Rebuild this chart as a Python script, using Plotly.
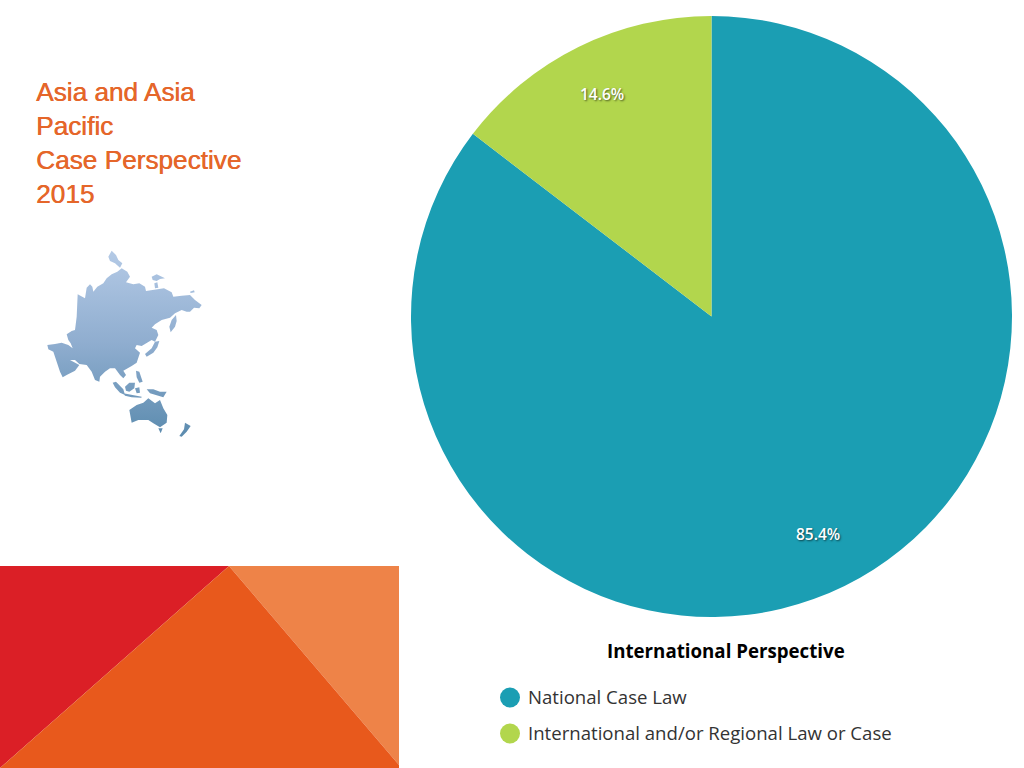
import math
import plotly.graph_objects as go

categories = ["National Case Law", "International and/or Regional Law or Case"]
values = [85.4, 14.6]
colors = ["#1B9EB3", "#B2D64D"]
chart_title = "International Perspective"
slide_title = ["Asia and Asia", "Pacific", "Case Perspective", "2015"]


# Decorative map outline: 3x zoom pixels of two crops of the map picture
def T(*pts):
    return [(40 + x / 3, 245 + y / 3) for x, y in pts]


def B(*pts):
    return [(40 + x / 3, 340 + y / 3) for x, y in pts]


map_parts = [
    T((205,35),(215,17),(228,30),(235,45),(247,55),(240,68),(225,55),(210,48)),
    T((113,148),(128,155),(135,160),(140,128),(150,118),(157,125),(160,140),(172,125),(190,115),(200,100),
      (215,88),(232,80),(245,70),(262,80),(270,95),(258,112),(280,118),(298,115),(315,125),(318,138),
      (345,135),(372,130),(395,142),(400,155),(425,152),(450,150),(465,165),(485,180),(478,190),(462,188),
      (450,200),(440,200),(425,195),(405,205),(390,218),(365,225),(345,238),(335,248),(350,255),(355,270),(345,290))
    + B((335,0),(315,12),(305,18),(290,15),(285,25),(300,38),(295,52),(290,68),(275,78),(262,85),(250,92),
        (258,105),(250,115),(240,105),(225,85),(210,85),(195,95),(180,110),(178,125),(165,120),(155,95),
        (140,75),(118,72),(105,60),(90,60),(118,75),(105,92),(80,105),(68,112),(60,95),(48,60),(40,35),
        (25,28),(22,15),(45,12),(65,8),(85,15),(98,25),(92,10),(85,0))
    + T((80,268),(95,258),(105,255),(110,215)),
    T((335,95),(350,88),(375,100),(360,102),(350,108),(338,105)),
    T((343,115),(352,112),(355,128),(345,130)),
    T((450,140),(462,136),(464,142),(452,144)),
    T((388,245),(395,225),(408,210),(410,228),(405,245),(392,262)),
    B((315,42),(335,25),(345,5),(358,3),(352,22),(340,38),(320,50)),
    B((218,128),(228,125),(250,148),(255,165),(240,158),(225,142)),
    B((250,160),(275,165),(305,170),(304,173),(275,172),(255,167)),
    B((255,140),(268,128),(285,128),(283,145),(268,155),(258,152)),
    B((288,92),(298,95),(308,125),(298,128),(290,112)),
    B((285,145),(298,142),(300,158),(290,160)),
    B((320,148),(340,148),(360,155),(380,155),(370,172),(350,165),(330,160)),
    B((268,210),(290,195),(310,188),(325,175),(345,190),(360,180),(370,205),(382,225),(380,248),(360,262),
      (340,250),(325,240),(295,240),(275,248)),
    B((355,265),(368,265),(362,280)),
    B((435,248),(452,258),(440,275),(425,290),(418,288),(432,268)),
]

W, H = 1024, 768
CX, CY, R = 711.5, 316.5, 300.5

map_x, map_y = [], []
for part in map_parts:
    for px, py in part + [part[0]]:
        map_x.append(px)
        map_y.append(py)
    map_x.append(None)
    map_y.append(None)

fig = go.Figure()
fig.add_trace(go.Scatter(
    x=map_x, y=map_y, mode="lines", fill="toself",
    line=dict(width=0, color="rgba(0,0,0,0)"),
    fillgradient=dict(type="vertical", start=250, stop=438,
                      colorscale=[[0, "#B4CAE6"], [0.5, "#8FADCF"], [1, "#5B8BAE"]]),
    hoverinfo="skip", showlegend=False,
))
fig.add_trace(go.Pie(
    labels=categories, values=values, sort=False, direction="clockwise", rotation=0,
    marker=dict(colors=colors, line=dict(width=0)), textinfo="none",
    domain=dict(x=[(CX - R) / W, (CX + R) / W], y=[1 - (CY + R) / H, 1 - (CY - R) / H]),
    showlegend=False,
))
fig.add_trace(go.Scatter(
    x=[510, 510], y=[697.5, 733.5], mode="markers",
    marker=dict(size=20, color=colors, line=dict(width=0)),
    hoverinfo="skip", showlegend=False,
))

shapes = [
    dict(type="path", path="M0,566 L229,566 L0,768 Z", fillcolor="#DB1F26"),
    dict(type="path", path="M229,566 L399,566 L399,765 Z", fillcolor="#EE8348"),
    dict(type="path", path="M229,566 L399,765 L399,768 L0,768 Z", fillcolor="#E8591C"),
]
for s in shapes:
    s.update(xref="x", yref="y", layer="below", line=dict(width=0))

annotations = [dict(
    x=33.5, y=75, xref="x", yref="y", xanchor="left", yanchor="top", align="left",
    text="<br>".join(slide_title), showarrow=False,
    font=dict(family="Liberation Sans", size=26.2, color="#E5662A",
              shadow="0.5px 0 0 #E5662A"),
), dict(
    x=725.5, y=650, xref="x", yref="y", xanchor="center", yanchor="middle",
    text="<b>" + chart_title + "</b>", showarrow=False,
    font=dict(family="Open Sans", size=18.7, color="#000000"),
)]
for cat, ly in zip(categories, [696, 732.5]):
    annotations.append(dict(
        x=526, y=ly, xref="x", yref="y", xanchor="left", yanchor="middle",
        text=cat, showarrow=False,
        font=dict(family="Open Sans", size=18.6, color="#333333"),
    ))

total = sum(values)
start = 0.0
for v in values:
    mid = (start + v / 2) / total * 2 * math.pi
    start += v
    annotations.append(dict(
        x=CX + 0.815 * R * math.sin(mid) - 1.5, y=CY - 0.815 * R * math.cos(mid) - 2.5,
        xref="x", yref="y", xanchor="center", yanchor="middle",
        text=f"{v:.1f}%", showarrow=False,
        font=dict(family="Open Sans", size=15.5, weight=600, color="#FFFFFF",
                  shadow="1px 1px 2px rgba(0,0,0,0.6)"),
    ))

fig.update_layout(
    width=W, height=H, margin=dict(l=0, r=0, t=0, b=0),
    paper_bgcolor="#FFFFFF", plot_bgcolor="#FFFFFF",
    xaxis=dict(range=[0, W], visible=False, domain=[0, 1], fixedrange=True),
    yaxis=dict(range=[H, 0], visible=False, domain=[0, 1], fixedrange=True),
    shapes=shapes, annotations=annotations,
)
fig.write_html("out.html", config=dict(displayModeBar=False),
               post_script="document.body.style.margin='0';document.documentElement.style.overflow='hidden';")
